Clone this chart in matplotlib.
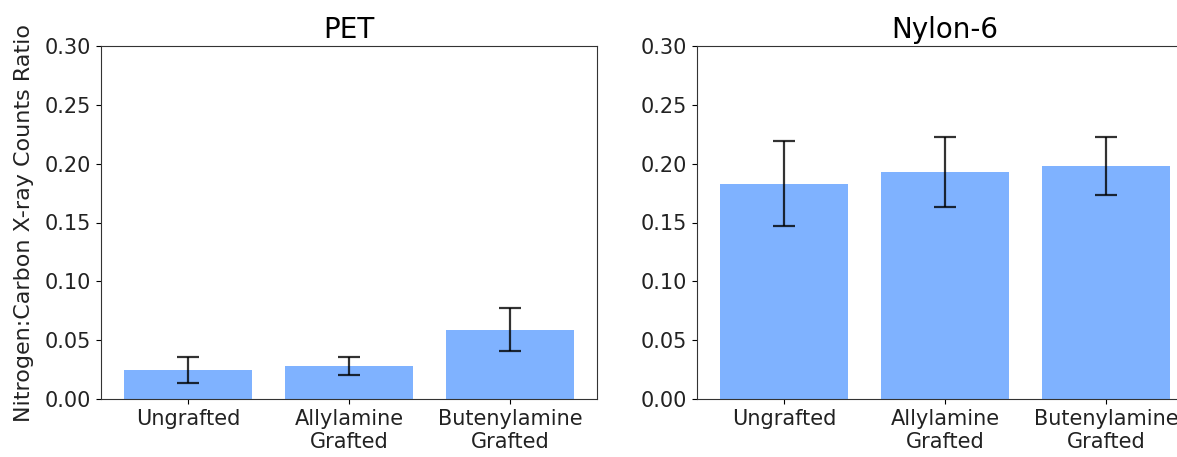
import matplotlib
matplotlib.use("Agg")
import matplotlib.pyplot as plt
import numpy as np

categories = ["Ungrafted", "Allylamine\nGrafted", "Butenylamine\nGrafted"]
pet_values = [0.0245, 0.028, 0.059]
pet_errors = [0.011, 0.0075, 0.018]
nylon_values = [0.183, 0.193, 0.198]
nylon_errors = [0.036, 0.030, 0.025]
titles = ["PET", "Nylon-6"]
yticks = [0.00, 0.05, 0.10, 0.15, 0.20, 0.25, 0.30]

fig = plt.figure(figsize=(11.77, 4.57), dpi=100)
ax1 = fig.add_axes([101/1177, 1-399/457, 496/1177, 353/457])
ax2 = fig.add_axes([697/1177, 1-399/457, 496/1177, 353/457])

bar_color = "#0066ff"
for ax, vals, errs, title in [(ax1, pet_values, pet_errors, titles[0]),
                              (ax2, nylon_values, nylon_errors, titles[1])]:
    x = np.arange(len(categories))
    ax.bar(x, vals, width=0.8, color=bar_color, alpha=0.5,
           yerr=errs, capsize=8,
           error_kw=dict(ecolor="black", elinewidth=1.6, capthick=1.6, alpha=0.8))
    ax.set_xticks(x)
    ax.set_xticklabels(categories, fontsize=15, color="#222222")
    ax.set_ylim(0, 0.30)
    ax.set_yticks(yticks)
    ax.set_yticklabels([f"{t:.2f}" for t in yticks], fontsize=15, color="#222222")
    ax.set_title(title, fontsize=20, pad=6)
    for s in ax.spines.values():
        s.set_color("#333333")

ax1.set_ylabel("Nitrogen:Carbon X-ray Counts Ratio", fontsize=16, color="#222222", labelpad=8)

fig.savefig("out.png", dpi=100)
